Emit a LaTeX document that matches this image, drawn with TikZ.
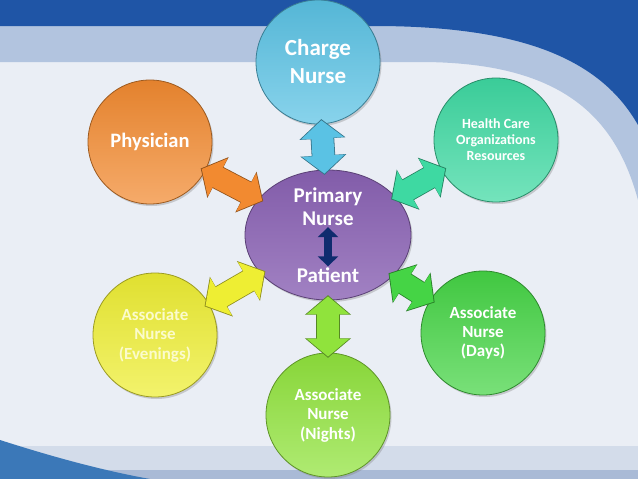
\documentclass[tikz,border=0pt]{standalone}
\usepackage{fontspec}
\setmainfont{Carlito}
\usetikzlibrary{arrows.meta,shadows,shapes.geometric}

\definecolor{bgbase}{HTML}{EAEEF5}
\definecolor{bandlight}{HTML}{B2C4DF}
\definecolor{banddark}{HTML}{1F55A6}
\definecolor{bandlow}{HTML}{D3DCEA}
\definecolor{bandlowb}{HTML}{A9BAD6}
\definecolor{swoosh}{HTML}{3B78B8}
\definecolor{chargeC}{HTML}{5AC2E4}
\definecolor{physC}{HTML}{F28A30}
\definecolor{healthC}{HTML}{3ED9A2}
\definecolor{eveC}{HTML}{EEEE33}
\definecolor{daysC}{HTML}{45D445}
\definecolor{nightC}{HTML}{90E33C}
\definecolor{primaryC}{HTML}{8A62B4}
\definecolor{innerC}{HTML}{0F2C6E}

\tikzset{
  person/.style={circle, minimum size=124pt, inner sep=0pt, align=center,
    draw=#1!65!black, line width=0.8pt, top color=#1!94!black, bottom color=#1!72!white,
    drop shadow={shadow xshift=1.5pt, shadow yshift=-2pt, opacity=0.35},
    text=white, font=\bfseries},
  link/.style={draw=#1, line width=22pt,
    {Triangle[width=42pt,length=18pt]}-{Triangle[width=42pt,length=18pt]},
    shorten <=-4pt, shorten >=-4pt,
    preaction={draw=#1!60!black, line width=23.6pt, shorten <=-5.2pt, shorten >=-5.2pt,
      arrows={Triangle[width=45pt,length=19.5pt]-Triangle[width=45pt,length=19.5pt]}}},
  midtext/.style={text=white, font=\bfseries\fontsize{21}{23}\selectfont, align=center, inner sep=1pt},
}

\begin{document}
\begin{tikzpicture}[x=1pt,y=-1pt]
  \useasboundingbox (0,0) rectangle (638,479);
  \fill[bgbase] (0,0) rectangle (638,479);
  \fill[bandlight] (0,0) -- (638,0) -- (638,200) .. controls (615,115) and (560,62) .. (420,62) -- (0,62) -- cycle;
  \fill[banddark] (0,0) -- (638,0) -- (638,125) .. controls (600,58) and (520,27) .. (380,26) -- (0,26) -- cycle;
  \fill[bandlow] (0,446) rectangle (638,470);
  \fill[bandlowb] (0,470) rectangle (638,479);
  \fill[swoosh] (0,440) .. controls (50,456) and (100,470) .. (150,479) -- (0,479) -- cycle;

  \node[ellipse, minimum width=166pt, minimum height=130pt, inner sep=0pt,
    draw=primaryC!65!black, line width=0.8pt, top color=primaryC!94!black, bottom color=primaryC!80!white,
    drop shadow={shadow xshift=1.5pt, shadow yshift=-2pt, opacity=0.35}] (primary) at (328,235) {};
  \node[midtext] (pn) at (328,207) {Primary\\Nurse};
  \node[midtext] (pt) at (328,275) {Patient};
  \draw[innerC, line width=8pt, {Triangle[width=20pt,length=10pt]}-{Triangle[width=20pt,length=10pt]}] (pn.south) -- (pt.north);

  \node[person=chargeC, font=\bfseries\fontsize{23}{28}\selectfont] (charge) at (318,62) {Charge\\Nurse};
  \node[person=physC, font=\bfseries\fontsize{20.5}{24}\selectfont] (phys) at (150,142) {Physician};
  \node[person=healthC, font=\bfseries\fontsize{14}{16}\selectfont] (health) at (496,140) {Health Care\\Organizations\\Resources};
  \node[person=eveC, text=eveC!25!white, font=\bfseries\fontsize{17}{19.5}\selectfont] (evening) at (155,335) {Associate\\Nurse\\(Evenings)};
  \node[person=daysC, font=\bfseries\fontsize{17}{19}\selectfont] (days) at (483,333) {Associate\\Nurse\\(Days)};
  \node[person=nightC, font=\bfseries\fontsize{17}{19.5}\selectfont] (night) at (328,415) {Associate\\Nurse\\(Nights)};

  \foreach \n/\c in {charge/chargeC, phys/physC, health/healthC, evening/eveC, days/daysC, night/nightC}
    \draw[link=\c] (\n) -- (primary);
\end{tikzpicture}
\end{document}
